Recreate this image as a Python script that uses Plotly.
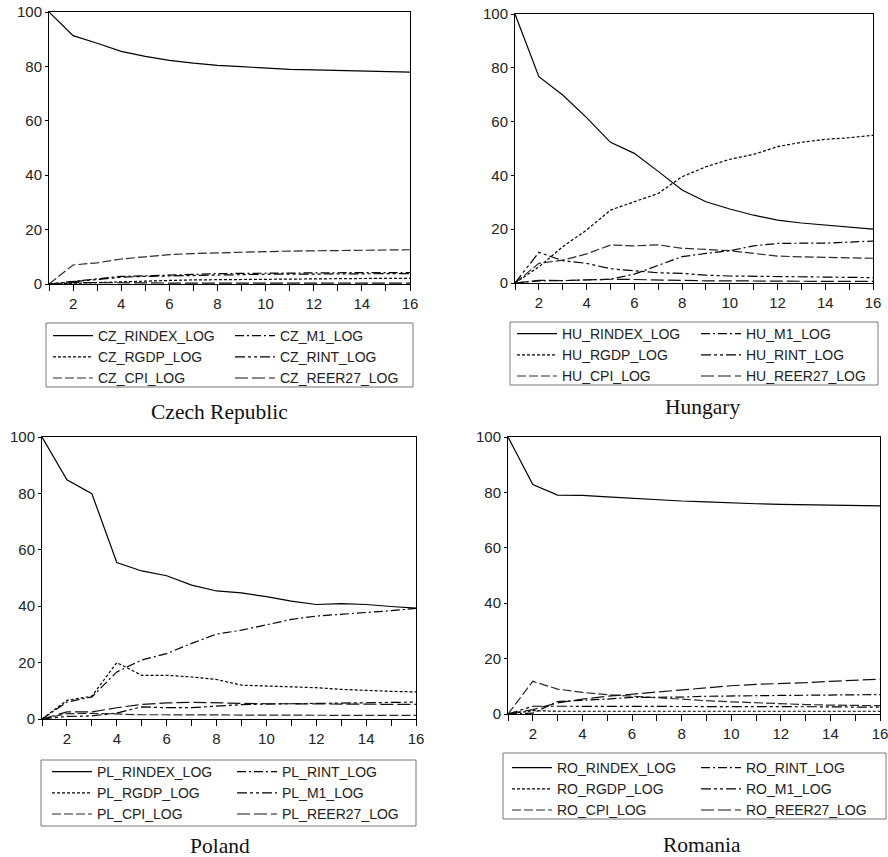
import plotly.graph_objects as go

periods = list(range(1, 17))

# ---- Czech Republic ----
cz_names = ["CZ_RINDEX_LOG", "CZ_RGDP_LOG", "CZ_CPI_LOG", "CZ_M1_LOG", "CZ_RINT_LOG", "CZ_REER27_LOG"]
cz_rindex = [100, 91.3, 88.5, 85.5, 83.7, 82.2, 81.2, 80.4, 79.9, 79.3, 78.9, 78.7, 78.5, 78.3, 78.1, 77.9]
cz_rgdp = [0, 0.3, 0.6, 0.9, 1.1, 1.3, 1.5, 1.6, 1.7, 1.8, 1.9, 2.0, 2.0, 2.1, 2.1, 2.1]
cz_cpi = [0, 7.0, 7.8, 9.2, 10.0, 10.8, 11.2, 11.5, 11.7, 11.9, 12.1, 12.2, 12.3, 12.4, 12.5, 12.6]
cz_m1 = [0, 1.0, 2.0, 2.8, 3.0, 3.3, 3.6, 3.8, 3.9, 4.0, 4.0, 4.1, 4.1, 4.2, 4.2, 4.2]
cz_rint = [0, 0.8, 1.8, 2.5, 2.8, 3.0, 3.2, 3.4, 3.5, 3.6, 3.6, 3.7, 3.7, 3.7, 3.8, 3.8]
cz_reer = [0, 0.5, 0.5, 0.4, 0.4, 0.3, 0.3, 0.3, 0.3, 0.3, 0.3, 0.3, 0.3, 0.3, 0.3, 0.3]

# ---- Hungary ----
hu_names = ["HU_RINDEX_LOG", "HU_RGDP_LOG", "HU_CPI_LOG", "HU_M1_LOG", "HU_RINT_LOG", "HU_REER27_LOG"]
hu_rindex = [100, 76.7, 69.9, 61.5, 52.3, 48.2, 41.5, 34.6, 30.2, 27.5, 25.2, 23.4, 22.3, 21.6, 20.8, 20.0]
hu_rgdp = [0, 6.0, 13.5, 19.7, 27.1, 30.2, 33.3, 39.5, 43.2, 46.0, 47.8, 50.7, 52.3, 53.4, 54.0, 54.9]
hu_cpi = [0, 7.3, 8.5, 10.8, 14.1, 13.8, 14.2, 12.9, 12.5, 12.0, 11.0, 10.0, 9.7, 9.5, 9.3, 9.2]
hu_m1 = [0, 0.8, 0.9, 1.1, 1.4, 3.3, 6.7, 9.8, 11.0, 12.0, 13.8, 14.7, 14.8, 14.8, 15.2, 15.6]
hu_rint = [0, 11.4, 8.3, 7.3, 5.3, 4.6, 3.8, 3.6, 2.9, 2.6, 2.5, 2.3, 2.1, 2.0, 2.0, 2.0]
hu_reer = [0, 1.0, 0.9, 1.2, 1.4, 1.3, 1.1, 0.9, 0.8, 0.8, 0.7, 0.7, 0.7, 0.6, 0.6, 0.6]

# ---- Poland ----
pl_names = ["PL_RINDEX_LOG", "PL_RGDP_LOG", "PL_CPI_LOG", "PL_RINT_LOG", "PL_M1_LOG", "PL_REER27_LOG"]
pl_rindex = [100, 84.8, 79.9, 55.5, 52.5, 50.8, 47.5, 45.4, 44.7, 43.4, 41.8, 40.6, 40.9, 40.6, 39.9, 39.3]
pl_rgdp = [0, 6.6, 8.1, 20.0, 15.5, 15.5, 14.9, 14.0, 12.0, 11.7, 11.4, 11.1, 10.5, 10.1, 9.8, 9.6]
pl_cpi = [0, 1.9, 2.0, 1.7, 1.5, 1.5, 1.4, 1.4, 1.4, 1.4, 1.3, 1.3, 1.3, 1.3, 1.3, 1.3]
pl_rint = [0, 6.0, 7.8, 16.7, 20.9, 23.2, 26.8, 30.1, 31.5, 33.3, 35.3, 36.5, 37.1, 37.7, 38.4, 39.2]
pl_m1 = [0, 0.9, 1.1, 2.1, 4.3, 4.0, 4.0, 4.5, 5.1, 5.3, 5.4, 5.5, 5.6, 5.8, 5.9, 6.0]
pl_reer = [0, 2.5, 2.5, 4.0, 5.2, 5.7, 5.9, 5.7, 5.5, 5.4, 5.4, 5.3, 5.3, 5.2, 5.2, 5.2]

# ---- Romania ----
ro_names = ["RO_RINDEX_LOG", "RO_RGDP_LOG", "RO_CPI_LOG", "RO_RINT_LOG", "RO_M1_LOG", "RO_REER27_LOG"]
ro_rindex = [100, 82.8, 79.0, 78.9, 78.4, 77.9, 77.2, 76.9, 76.6, 76.2, 75.9, 75.7, 75.5, 75.4, 75.1, 75.1]
ro_rgdp = [0, 1.2, 1.0, 1.0, 1.0, 1.0, 1.0, 1.0, 1.0, 1.0, 1.0, 1.0, 1.0, 1.0, 1.0, 1.0]
ro_cpi = [0, 11.8, 9.0, 7.8, 7.0, 6.4, 5.8, 5.2, 4.8, 4.4, 4.0, 3.7, 3.4, 3.2, 3.0, 3.0]
ro_rint = [0, 0.3, 4.5, 4.9, 5.4, 6.0, 6.0, 6.1, 6.4, 6.6, 6.6, 6.7, 6.8, 6.8, 6.9, 7.0]
ro_m1 = [0, 2.8, 2.8, 2.8, 2.8, 2.8, 2.8, 2.8, 2.8, 2.7, 2.7, 2.7, 2.6, 2.6, 2.5, 2.5]
ro_reer = [0, 1.6, 4.0, 5.4, 6.4, 7.2, 8.0, 8.8, 9.4, 10.2, 10.7, 10.9, 11.3, 11.8, 12.2, 12.6]

countries = ["Czech Republic", "Hungary", "Poland", "Romania"]

# style per series position (EViews default order)
dashes = ["solid", "3px,2px", "9px,3px", "9px,3px,2px,3px", "10px,3px,3px,3px,3px,3px", "13px,4px"]
colors = ["#000000", "#000000", "#2a2a2a", "#000000", "#000000", "#111111"]

panels = [
    (cz_names, [cz_rindex, cz_rgdp, cz_cpi, cz_m1, cz_rint, cz_reer]),
    (hu_names, [hu_rindex, hu_rgdp, hu_cpi, hu_m1, hu_rint, hu_reer]),
    (pl_names, [pl_rindex, pl_rgdp, pl_cpi, pl_rint, pl_m1, pl_reer]),
    (ro_names, [ro_rindex, ro_rgdp, ro_cpi, ro_rint, ro_m1, ro_reer]),
]

W, H = 888, 857

def px_x(v):
    return v / W

def px_y(v):
    return 1 - v / H

# plot area in pixels: (left, right, top, bottom)
areas = [(49, 410, 12, 284), (515, 873, 14, 283), (42, 416, 437, 719), (508, 880, 437, 714)]
# legend box in pixels: (left, right, top, bottom)
legboxes = [(46, 413, 323, 387), (510, 878, 322, 385), (41, 416, 760, 826), (503, 886, 753, 819)]
# legend column anchors (left x of each column) and top y
legcols = [(48, 230), (512, 696), (47, 232), (507, 696)]
legtops = [320, 318, 756, 752]
titles_pos = [(219, 412), (702, 407), (220, 846), (702, 845)]

fig = go.Figure()
layout = dict(
    template="none",
    width=W, height=H, margin=dict(l=0, r=0, t=0, b=0, autoexpand=False),
    paper_bgcolor="white", plot_bgcolor="white",
    font=dict(family="Liberation Sans, Arial, sans-serif", size=14, color="#222"),
    shapes=[], annotations=[],
)

def legkey(k):
    return "legend" if k == 0 else "legend" + str(k + 1)

for i, (names, series) in enumerate(panels):
    ax = "" if i == 0 else str(i + 1)
    l, r, t, b = areas[i]
    for j in range(6):
        fig.add_trace(go.Scatter(
            x=periods, y=series[j], mode="lines", name=names[j],
            line=dict(color=colors[j], width=1.2, dash=dashes[j]),
            xaxis="x" + ax, yaxis="y" + ax, legend=legkey(2 * i + j // 3), showlegend=True,
        ))
    layout["xaxis" + ax] = dict(
        domain=[px_x(l), px_x(r)], range=[1, 16], anchor="y" + ax,
        tick0=0, dtick=2, ticks="outside", ticklen=6, tickcolor="black",
        minor=dict(tick0=1, dtick=1, ticks="outside", ticklen=6, tickcolor="black"),
        showline=True, linecolor="black", linewidth=1, mirror=True,
        showgrid=False, zeroline=False, fixedrange=True, automargin=False,
        ticklabeloverflow="allow",
        tickfont=dict(size=15, color="#222"),
    )
    layout["yaxis" + ax] = dict(
        domain=[px_y(b), px_y(t)], range=[0, 100], anchor="x" + ax,
        tick0=0, dtick=20, ticks="outside", ticklen=3, tickcolor="black",
        showline=True, linecolor="black", linewidth=1, mirror=True,
        showgrid=False, zeroline=False, fixedrange=True, automargin=False,
        ticklabeloverflow="allow",
        tickfont=dict(size=15, color="#222"),
    )
    bl, br, bt, bb = legboxes[i]
    layout["shapes"].append(dict(
        type="rect", xref="paper", yref="paper",
        x0=px_x(bl), x1=px_x(br), y0=px_y(bb), y1=px_y(bt),
        line=dict(color="#777", width=1), fillcolor="rgba(0,0,0,0)",
    ))
    for c in range(2):
        layout[legkey(2 * i + c)] = dict(
            x=px_x(legcols[i][c]), xanchor="left",
            y=px_y(legtops[i]), yanchor="top",
            orientation="v", bgcolor="rgba(0,0,0,0)", borderwidth=0,
            font=dict(size=14, color="#222"), itemwidth=40,
            tracegroupgap=0, itemclick=False, itemdoubleclick=False,
        )
    tx, ty = titles_pos[i]
    layout["annotations"].append(dict(
        text=countries[i], xref="paper", yref="paper", x=px_x(tx), y=px_y(ty),
        xanchor="center", yanchor="middle", showarrow=False,
        font=dict(family="Liberation Serif, Times New Roman, serif", size=21.5, color="#111"),
    ))

fig.update_layout(**layout)
fig.write_html(
    "out.html",
    config={"displayModeBar": False},
    post_script="document.body.style.margin='0';document.body.style.overflow='hidden';",
)
